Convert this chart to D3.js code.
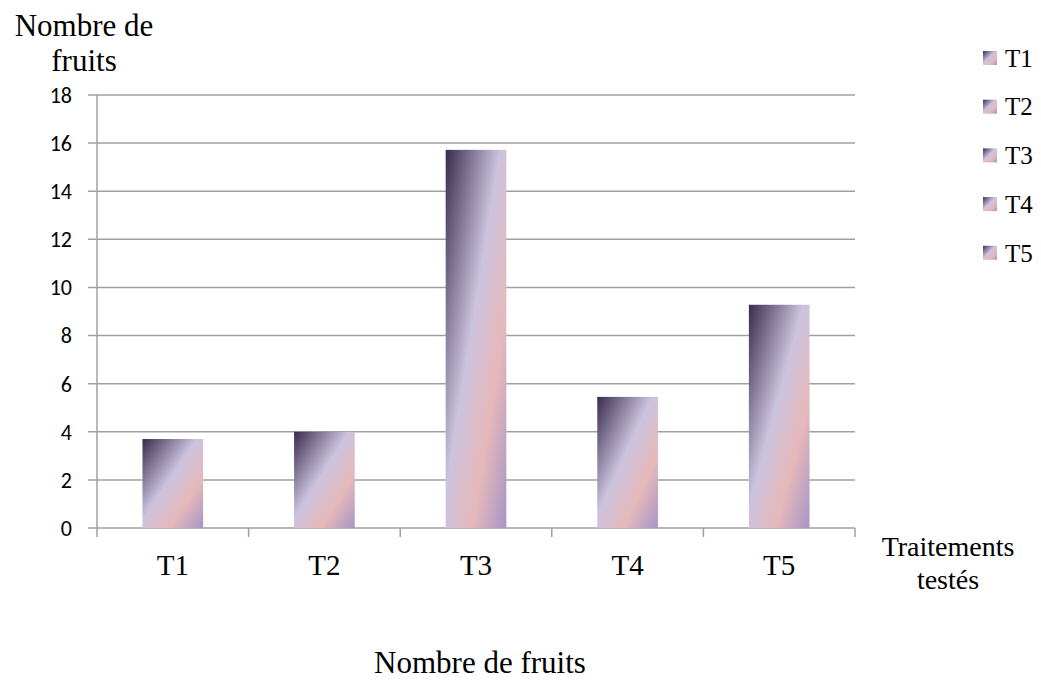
<!DOCTYPE html>
<html><head><meta charset="utf-8">
<script src="https://cdn.jsdelivr.net/npm/d3@7"></script>
<style>body{margin:0;background:#fff}svg{display:block}</style>
</head><body>
<script>
const categories = ["T1","T2","T3","T4","T5"];
const values = [3.7, 4.0, 15.72, 5.45, 9.28];
const yTicks = [0,2,4,6,8,10,12,14,16,18];
const legendLabels = ["T1","T2","T3","T4","T5"];

(function(){
const W = 1041, H = 681;
const svg = d3.select("body").append("svg").attr("width", W).attr("height", H);
const defs = svg.append("defs");
const grad = defs.append("linearGradient").attr("id","bg")
  .attr("x1","0").attr("y1","0").attr("x2","1").attr("y2","1");
[[0,"#3a2b4e"],[0.45,"#cbc3de"],[0.72,"#e6b8b9"],[1,"#a595c6"]].forEach(([o,c])=>
  grad.append("stop").attr("offset",o).attr("stop-color",c));

const pL = 97, pR = 855, pT = 95, pB = 528;
const x = d3.scaleBand().domain(categories).range([pL,pR]).paddingInner(0.6).paddingOuter(0.3);
const xb = d3.scaleBand().domain(categories).range([pL,pR]);
const y = d3.scaleLinear().domain([0,18]).range([pB,pT]);

svg.append("g").selectAll("line").data(yTicks).join("line")
  .attr("x1", pL-9).attr("x2", pR).attr("y1", d=>y(d)).attr("y2", d=>y(d))
  .attr("stroke","#a0a0a0").attr("stroke-width",1.5);
svg.append("line").attr("x1",pL).attr("x2",pL).attr("y1",pT).attr("y2",pB+9)
  .attr("stroke","#a0a0a0").attr("stroke-width",1.5);
const bounds = categories.map(c=>xb(c)).concat([pR]);
svg.append("g").selectAll("line").data(bounds.slice(1)).join("line")
  .attr("x1",d=>d).attr("x2",d=>d).attr("y1",pB).attr("y2",pB+9)
  .attr("stroke","#a0a0a0").attr("stroke-width",1.5);

svg.append("g").selectAll("text").data(yTicks).join("text")
  .attr("x", 72).attr("y", d=>y(d)).attr("dy","0.36em").attr("text-anchor","end")
  .attr("font-family","Carlito, Lato, 'Open Sans', sans-serif").attr("font-size",22).attr("fill","#000")
  .text(d=>d);

svg.append("g").selectAll("rect").data(values).join("rect")
  .attr("x",(d,i)=>x(categories[i])).attr("width",x.bandwidth())
  .attr("y",d=>y(d)).attr("height",d=>pB-y(d))
  .attr("fill","url(#bg)");

const serif = "'Liberation Serif','Times New Roman',serif";
svg.append("g").selectAll("text").data(categories).join("text")
  .attr("x",d=>xb(d)+xb.bandwidth()/2).attr("y",575).attr("text-anchor","middle")
  .attr("font-family",serif).attr("font-size",29).text(d=>d);

svg.append("text").attr("x",84).attr("y",36).attr("text-anchor","middle")
  .attr("font-family",serif).attr("font-size",31).text("Nombre de");
svg.append("text").attr("x",84).attr("y",71).attr("text-anchor","middle")
  .attr("font-family",serif).attr("font-size",31).text("fruits");
svg.append("text").attr("x",948).attr("y",556).attr("text-anchor","middle")
  .attr("font-family",serif).attr("font-size",28).text("Traitements");
svg.append("text").attr("x",948).attr("y",589).attr("text-anchor","middle")
  .attr("font-family",serif).attr("font-size",28).text("testés");
svg.append("text").attr("x",480).attr("y",673).attr("text-anchor","middle")
  .attr("font-family",serif).attr("font-size",31).text("Nombre de fruits");

const lg = svg.append("g").selectAll("g").data(legendLabels).join("g")
  .attr("transform",(d,i)=>`translate(983,${58+i*48.7})`);
lg.append("rect").attr("x",0).attr("y",-7).attr("width",14).attr("height",14).attr("fill","url(#bg)");
lg.append("text").attr("x",22).attr("y",0).attr("dy","0.35em")
  .attr("font-family",serif).attr("font-size",25).text(d=>d);
})();
</script>
</body></html>
